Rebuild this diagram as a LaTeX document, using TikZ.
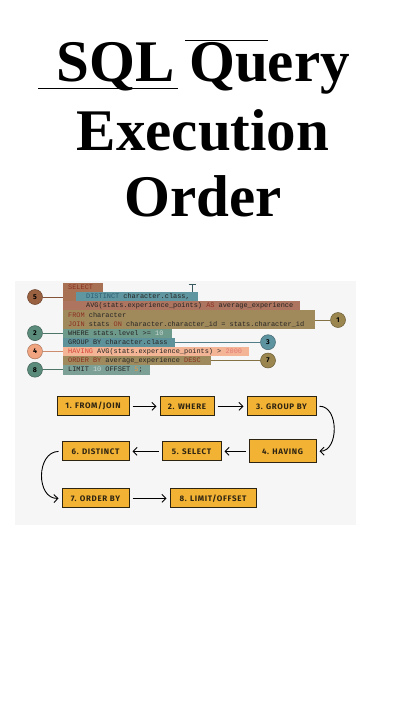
\documentclass[tikz,border=0pt]{standalone}
\usepackage{fontspec}
\setmainfont{Liberation Serif}
\setsansfont{Fira Sans}
\newfontfamily\codefont{Liberation Mono}
\usetikzlibrary{arrows.meta, positioning, calc}
\definecolor{panelGray}{RGB}{246,246,246}
\definecolor{selBrown}{RGB}{169,113,84}
\definecolor{avgBrown}{RGB}{173,116,96}
\definecolor{distTeal}{RGB}{96,150,160}
\definecolor{fromOlive}{RGB}{160,138,92}
\definecolor{whereTeal}{RGB}{110,154,140}
\definecolor{groupTeal}{RGB}{94,146,155}
\definecolor{havSalmon}{RGB}{244,181,150}
\definecolor{orderOlive}{RGB}{159,138,93}
\definecolor{limitTeal}{RGB}{124,159,150}
\definecolor{dotBrown}{RGB}{154,97,65}
\definecolor{dotTeal}{RGB}{91,139,123}
\definecolor{dotSalmon}{RGB}{240,165,128}
\definecolor{dotOlive}{RGB}{155,134,80}
\definecolor{dotBlue}{RGB}{94,147,160}
\definecolor{codeInk}{RGB}{38,36,34}
\definecolor{kwRed}{RGB}{140,48,34}
\definecolor{kwBright}{RGB}{214,66,52}
\definecolor{kwBlue}{RGB}{44,92,116}
\definecolor{numPink}{RGB}{226,120,120}
\definecolor{numPale}{RGB}{205,218,212}
\definecolor{numOrange}{RGB}{232,150,70}
\definecolor{boxGold}{RGB}{242,178,52}
\definecolor{boxEdge}{RGB}{46,36,18}
\newcommand\sqlkw[1]{\textcolor{kwRed}{#1}}
\newcommand\sqlhav[1]{\textcolor{kwBright}{#1}}
\newcommand\sqldist[1]{\textcolor{kwBlue}{#1}}
\newcommand\sqlnum[2][numPink]{\textcolor{#1}{#2}}

\begin{document}
\begin{tikzpicture}[
  x=1pt, y=-1pt,
  title/.style={anchor=base, inner sep=0, font=\fontsize{59}{59}\selectfont\bfseries},
  deco/.style={draw=black, line width=0.8pt},
  band/.style={anchor=north west, inner sep=0, minimum height=9.2pt},
  code/.style={anchor=base west, inner sep=0, text=codeInk, font=\codefont\fontsize{6.9}{8}\selectfont},
  dot/.style={circle, draw=#1!70!black, fill=#1, line width=0.5pt, minimum size=15pt, inner sep=0, font=\sffamily\bfseries\fontsize{7}{7}\selectfont},
  tick/.style={draw=#1!85!black, line width=0.8pt},
  stepbox/.style={rectangle, draw=boxEdge, fill=boxGold, line width=1pt, minimum height=19pt, inner sep=0, text=boxEdge, font=\sffamily\bfseries\fontsize{8}{8}\selectfont\addfontfeature{LetterSpace=8}},
  flow/.style={draw=black, line width=0.9pt, -{Straight Barb[length=4pt,width=8pt]}, shorten <=3pt, shorten >=3pt}
]
  \useasboundingbox (0,0) rectangle (405,720);

  % Title
  \node[title] (t1) at (203,81.7) {SQL Query};
  \node[title] (t2) at (203,150) {Execution};
  \node[title] (t3) at (203,216.7) {Order};
  \draw[deco] (38,88.3) -- (178,88.3);
  \draw[deco] (185,40.7) -- (268,40.7);

  % Panel
  \fill[panelGray] (15,281) rectangle (356,525);

  % Code bands
  \node[band, fill=selBrown, minimum width=40pt] (selA) at (63,282.7) {};
  \node[band, fill=selBrown, minimum width=13pt] (selB) at (63,291.9) {};
  \node[band, fill=distTeal, minimum width=122pt] (dist) at (76,291.9) {};
  \node[band, fill=avgBrown, minimum width=237pt] (avg) at (63,301.1) {};
  \node[band, fill=fromOlive, minimum width=252pt, minimum height=18.3pt] (from) at (63,310.2) {};
  \node[band, fill=whereTeal, minimum width=109pt] (where) at (63,328.5) {};
  \node[band, fill=groupTeal, minimum width=112pt] (group) at (63,337.6) {};
  \node[band, fill=havSalmon, minimum width=186pt] (having) at (63,346.8) {};
  \node[band, fill=orderOlive, minimum width=148pt] (order) at (63,355.9) {};
  \node[band, fill=limitTeal, minimum width=87pt] (limit) at (63,365.1) {};

  % Code text
  \node[code] (l1) at (68,289.5) {\sqlkw{SELECT}};
  \node[code] (l2) at (86,298.7) {\sqldist{DISTINCT} character.class,};
  \node[code] (l3) at (86,307.8) {AVG(stats.experience\_points) \sqlkw{AS} average\_experience};
  \node[code] (l4) at (68,317.0) {\sqlkw{FROM} character};
  \node[code] (l5) at (68,326.1) {\sqlkw{JOIN} stats \sqlkw{ON} character.character\_id = stats.character\_id};
  \node[code] (l6) at (68,335.3) {WHERE stats.level >= \sqlnum[numPale]{10}};
  \node[code] (l7) at (68,344.4) {GROUP BY character.class};
  \node[code] (l8) at (68,353.6) {\sqlhav{HAVING} AVG(stats.experience\_points) > \sqlnum{2000}};
  \node[code] (l9) at (68,362.7) {\sqlkw{ORDER BY} average\_experience \sqlkw{DESC}};
  \node[code] (l10) at (68,371.9) {LIMIT \sqlnum[numPale]{10} OFFSET \sqlnum[numOrange]{5};};

  % Cursor mark
  \coordinate (tcur) at (192,284);
  \draw[draw=distTeal!60!black, line width=0.9pt, {Bar[width=7pt]}-] (tcur) -- (tcur |- dist.north);

  % Number dots
  \node[dot=dotBrown] (c5) at (35,297) {5};
  \node[dot=dotTeal] (c2) at (35,333.1) {2};
  \node[dot=dotSalmon] (c4) at (35,351.4) {4};
  \node[dot=dotTeal] (c8) at (35,369.7) {8};
  \node[dot=dotOlive] (c1) at (338,320) {1};
  \node[dot=dotBlue] (c3) at (268,342.2) {3};
  \node[dot=dotOlive] (c7) at (268,360.5) {7};
  \draw[tick=dotBrown] (c5) -- (c5 -| selB.west);
  \draw[tick=dotTeal] (c2) -- (c2 -| where.west);
  \draw[tick=dotSalmon] (c4) -- (c4 -| having.west);
  \draw[tick=dotTeal] (c8) -- (c8 -| limit.west);
  \draw[tick=dotOlive] (c1) -- (c1 -| from.east);
  \draw[tick=dotBlue] (c3) -- (c3 -| group.east);
  \draw[tick=dotOlive] (c7) -- (c7 -| order.east);

  % Execution steps
  \node[stepbox, minimum width=72pt] (f1) at (93,406.3) {1. FROM/JOIN};
  \node[stepbox, minimum width=54pt, right=30pt of f1] (f2) {2. WHERE};
  \node[stepbox, minimum width=69pt, right=32pt of f2] (f3) {3. GROUP BY};
  \node[stepbox, minimum width=67pt, minimum height=23pt, below=23pt of f3.south east, anchor=north east] (f4) {4. HAVING};
  \node[stepbox, minimum width=59pt, left=27pt of f4] (f5) {5. SELECT};
  \node[stepbox, minimum width=67pt, left=32pt of f5] (f6) {6. DISTINCT};
  \node[stepbox, minimum width=67pt, below=27pt of f6] (f7) {7. ORDER BY};
  \node[stepbox, minimum width=86pt, right=40pt of f7] (f8) {8. LIMIT/OFFSET};

  \draw[flow] (f1) -- (f2);
  \draw[flow] (f2) -- (f3);
  \draw[flow] (f3.east) .. controls (339,406) and (339,451) .. (f4.east);
  \draw[flow] (f4) -- (f5);
  \draw[flow] (f5) -- (f6);
  \draw[flow] (f6.west) .. controls (36,452) and (36,499) .. (f7.west);
  \draw[flow] (f7) -- (f8);
\end{tikzpicture}
\end{document}
